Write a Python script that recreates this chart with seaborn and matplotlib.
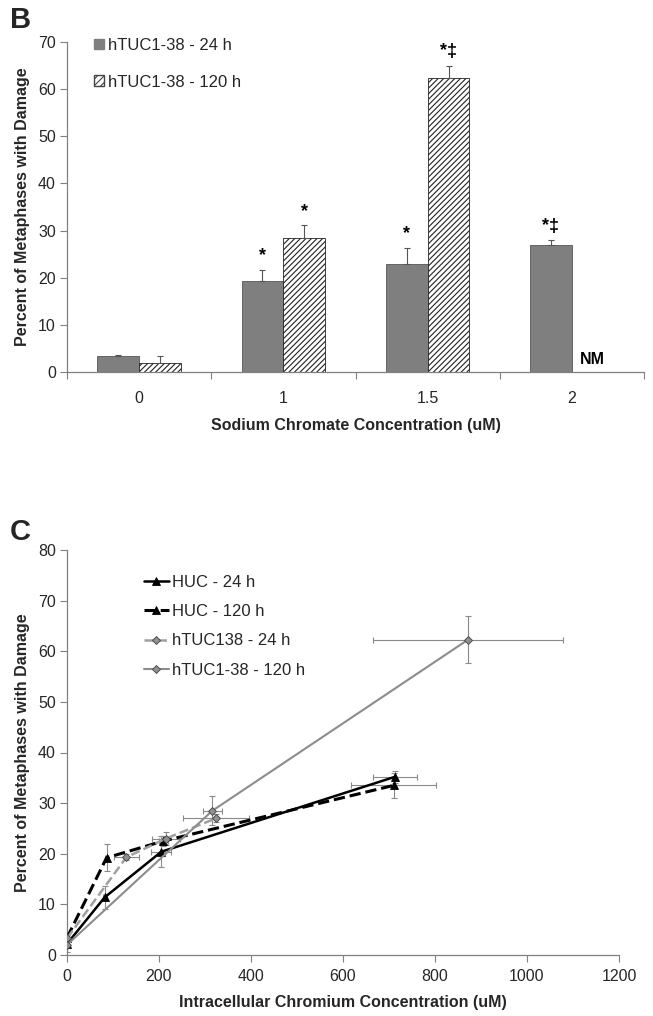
import numpy as np
import pandas as pd
import matplotlib
matplotlib.use('Agg')
import matplotlib.pyplot as plt
import seaborn as sns
from matplotlib.patches import Patch

# ---- panel B: bars ----
conc_labels = ['0', '1', '1.5', '2']
b_24h = [3.3, 19.3, 23.0, 27.0]
b_24h_err = [0.4, 2.4, 3.3, 0.9]
b_120h = [2.0, 28.5, 62.3, np.nan]   # 2 uM at 120 h not measured
b_120h_err = [1.4, 2.6, 2.7, np.nan]
b_marks_24h = ['', '*', '*', '*‡']
b_marks_120h = ['', '*', '*‡', '']
b_series = ['hTUC1-38 - 24 h', 'hTUC1-38 - 120 h']

# ---- panel C: damage vs intracellular Cr ----
huc24_x = [0, 82, 205, 713]
huc24_y = [2.2, 11.4, 20.4, 35.2]
huc24_xerr = [2, 4, 22, 47]
huc24_yerr = [0.4, 2.3, 3.1, 1.2]

huc120_x = [0, 86, 209, 710]
huc120_y = [3.4, 19.2, 22.5, 33.5]
huc120_xerr = [2, 4, 10, 93]
huc120_yerr = [0.5, 2.7, 1.0, 2.4]

htuc24_x = [0, 129, 215, 324]
htuc24_y = [3.3, 19.3, 23.0, 27.0]
htuc24_xerr = [2, 27, 30, 72]
htuc24_yerr = [0.3, 0.6, 1.3, 0.8]

htuc120_x = [0, 316, 872]
htuc120_y = [2.0, 28.5, 62.3]
htuc120_xerr = [2, 20, 207]
htuc120_yerr = [1.4, 2.9, 4.7]

sns.set_theme(style='white')
plt.rcParams['font.family'] = ['Liberation Sans', 'DejaVu Sans']
plt.rcParams['hatch.color'] = '#444444'
plt.rcParams['hatch.linewidth'] = 0.8

W, H = 653, 1016
fig = plt.figure(figsize=(W / 100, H / 100), dpi=100)
ax1 = fig.add_axes([67 / W, 1 - 372 / H, (644 - 67) / W, (372 - 42) / H])
ax2 = fig.add_axes([67 / W, 1 - 955 / H, (619 - 67) / W, (955 - 550) / H])

axis_grey = '#808080'
tick_fs = 11.5
label_fs = 11.5

# Panel B
df_b = pd.DataFrame({
    'conc': conc_labels * 2,
    'value': b_24h + b_120h,
    'series': [b_series[0]] * 4 + [b_series[1]] * 4,
})
sns.barplot(data=df_b, x='conc', y='value', hue='series', ax=ax1,
            order=conc_labels, hue_order=b_series, width=0.58,
            palette=['#7f7f7f', 'white'], saturation=1, errorbar=None,
            edgecolor='#333333', linewidth=0.6)

for bar in ax1.containers[1]:
    bar.set_hatch('//////')
    bar.set_edgecolor('#222222')
for bar in ax1.containers[0]:
    bar.set_edgecolor('#555555')

series_info = [(b_24h, b_24h_err, b_marks_24h), (b_120h, b_120h_err, b_marks_120h)]
for cont, (vals, errs, marks) in zip(ax1.containers, series_info):
    keep = [i for i, v in enumerate(vals) if not np.isnan(v)]
    for bar, i in zip(cont, keep):
        cx = bar.get_x() + bar.get_width() / 2
        ax1.errorbar(cx, vals[i], yerr=[[0], [errs[i]]], fmt='none',
                     ecolor='#555555', elinewidth=0.8, capsize=2.5, capthick=0.8)
        if marks[i]:
            ax1.text(cx, vals[i] + errs[i] + 1.2, marks[i], ha='center', va='bottom',
                     fontsize=13, fontweight='bold', color='black')

# NM label where the missing 120 h bar would be
last = ax1.containers[0][-1]
ax1.text(last.get_x() + 1.5 * last.get_width(), 1.0, 'NM', ha='center', va='bottom',
         fontsize=11.5, fontweight='bold', color='black')

ax1.set_xlim(-0.5, 3.5)
ax1.set_ylim(0, 70)
ax1.set_yticks(range(0, 71, 10))
ax1.set_xticks(range(4))
ax1.set_xticklabels(conc_labels)
ax1.set_xticks([-0.5, 0.5, 1.5, 2.5, 3.5], minor=True)
ax1.tick_params(axis='x', which='major', length=0, pad=14, labelsize=tick_fs)
ax1.tick_params(axis='x', which='minor', length=5, width=0.8, color=axis_grey, direction='out', bottom=True)
ax1.tick_params(axis='y', length=5, width=0.8, color=axis_grey, direction='out', left=True, labelsize=tick_fs, pad=3)
ax1.set_xlabel('Sodium Chromate Concentration (uM)', fontsize=label_fs, fontweight='bold', labelpad=8)
ax1.set_ylabel('Percent of Metaphases with Damage', fontsize=label_fs, fontweight='bold', labelpad=6)

handles_b = [Patch(facecolor='#7f7f7f', edgecolor='#7f7f7f'),
             Patch(facecolor='white', edgecolor='#444444', hatch='/////')]
ax1.legend(handles_b, b_series, loc='upper left', bbox_to_anchor=(0.02, 1.058),
           frameon=False, fontsize=12, handlelength=0.6, handleheight=0.6,
           handletextpad=0.25, labelspacing=1.3)

# Panel C
series_c = [
    ('HUC - 24 h', huc24_x, huc24_y, huc24_xerr, huc24_yerr, 'black', '-', '^', 'black', 1.8),
    ('HUC - 120 h', huc120_x, huc120_y, huc120_xerr, huc120_yerr, 'black', '--', '^', 'black', 2.2),
    ('hTUC138 - 24 h', htuc24_x, htuc24_y, htuc24_xerr, htuc24_yerr, '#a0a0a0', '--', 'D', '#909090', 1.8),
    ('hTUC1-38 - 120 h', htuc120_x, htuc120_y, htuc120_xerr, htuc120_yerr, '#8c8c8c', '-', 'D', '#909090', 1.5),
]
for name, xs, ys, xe, ye, col, ls, mk, mfc, lw in series_c:
    ax2.errorbar(xs, ys, xerr=xe, yerr=ye, fmt='none', ecolor='#8a8a8a',
                 elinewidth=0.8, capsize=2, capthick=0.8, zorder=1)
for name, xs, ys, xe, ye, col, ls, mk, mfc, lw in series_c:
    sns.lineplot(x=xs, y=ys, ax=ax2, color=col, linestyle=ls, linewidth=lw,
                 marker=mk, markersize=5.5 if mk == '^' else 4.5,
                 markerfacecolor=mfc, markeredgecolor='#404040' if mk == 'D' else 'black',
                 markeredgewidth=0.6, label=name, zorder=3)

ax2.set_xlim(0, 1200)
ax2.set_ylim(0, 80)
ax2.set_xticks(range(0, 1201, 200))
ax2.set_yticks(range(0, 81, 10))
ax2.tick_params(axis='both', length=5, width=0.8, color=axis_grey, direction='out',
                left=True, bottom=True, labelsize=tick_fs, pad=3)
ax2.tick_params(axis='x', pad=5)
ax2.set_xlabel('Intracellular Chromium Concentration (uM)', fontsize=label_fs, fontweight='bold', labelpad=8)
ax2.set_ylabel('Percent of Metaphases with Damage', fontsize=label_fs, fontweight='bold', labelpad=6)
ax2.legend(loc='upper left', bbox_to_anchor=(0.112, 0.975), frameon=False, fontsize=12,
           handlelength=1.5, handletextpad=0.2, labelspacing=0.85)

for ax in (ax1, ax2):
    sns.despine(ax=ax)
    for side in ('left', 'bottom'):
        ax.spines[side].set_color(axis_grey)
        ax.spines[side].set_linewidth(0.9)

fig.text(10 / W, 1 - 6 / H, 'B', fontsize=21, fontweight='bold', va='top', ha='left')
fig.text(10 / W, 1 - 518 / H, 'C', fontsize=21, fontweight='bold', va='top', ha='left')

fig.savefig('out.png', dpi=100)
